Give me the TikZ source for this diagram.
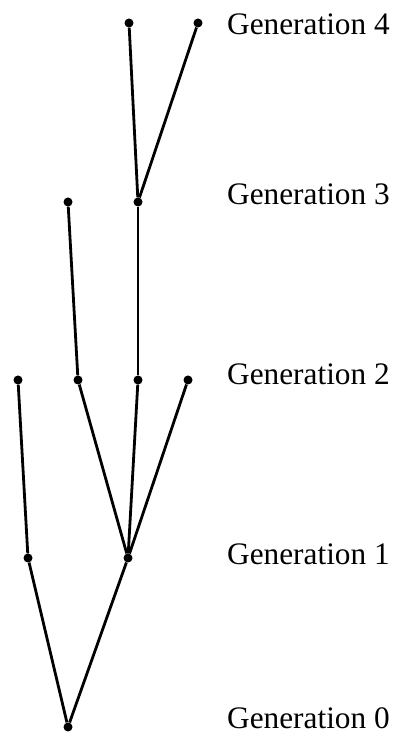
\documentclass[tikz,border=0pt]{standalone}
\usepackage{fontspec}
\setmainfont{Liberation Serif}
\begin{document}
\begin{tikzpicture}[x=1pt,y=1pt,
  dot/.style={circle,fill=black,inner sep=0pt,minimum size=9pt},
  edge/.style={line width=2.8pt},
  genlabel/.style={anchor=base west,inner sep=0pt,font=\fontsize{31.3}{37}\selectfont}]
\useasboundingbox (0,0) rectangle (395,736);
% generation 0
\node[dot] (r) at (68,9) {};
% generation 1
\node[dot] (a) at (28,178) {};
\node[dot] (b) at (128,178) {};
% generation 2
\node[dot] (a1) at (18,356) {};
\node[dot] (b1) at (78,356) {};
\node[dot] (b2) at (138,356) {};
\node[dot] (b3) at (188,356) {};
% generation 3
\node[dot] (c1) at (68,534) {};
\node[dot] (c2) at (138,534) {};
% generation 4
\node[dot] (d1) at (129,713) {};
\node[dot] (d2) at (198,713) {};
% branches
\draw[edge] (r) -- (a);
\draw[edge] (r) -- (b);
\draw[edge] (a) -- (a1);
\draw[edge] (b) -- (b1);
\draw[edge] (b) -- (b2);
\draw[edge] (b) -- (b3);
\draw[edge] (b1) -- (c1);
\draw[edge] (b2) -- (c2);
\draw[edge] (c2) -- (d1);
\draw[edge] (c2) -- (d2);
% generation labels
\node[genlabel] (g4) at (227,701) {Generation 4};
\node[genlabel] (g3) at (227,531) {Generation 3};
\node[genlabel] (g2) at (227,351) {Generation 2};
\node[genlabel] (g1) at (227,171) {Generation 1};
\node[genlabel] (g0) at (227,7) {Generation 0};
\end{tikzpicture}
\end{document}
